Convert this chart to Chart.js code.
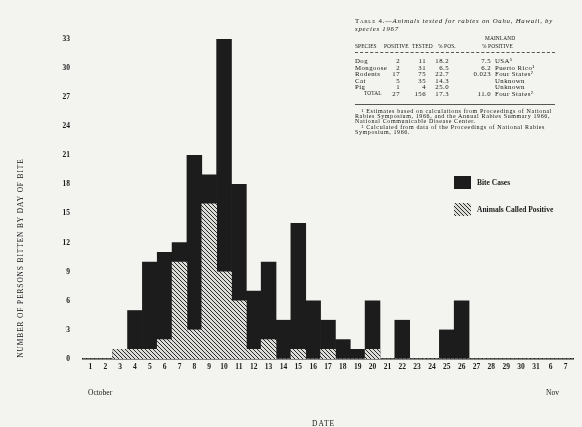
<!DOCTYPE html>
<html>
<head>
<meta charset="utf-8">
<script src="https://cdn.jsdelivr.net/npm/chart.js@4.4.0/dist/chart.umd.min.js"></script>
<style>
    html, body { margin: 0; padding: 0; background: #f3f3f0; }
    #wrap { position: relative; width: 582px; height: 427px; overflow: hidden; font-family: "Liberation Serif", "DejaVu Serif", serif; color: #151515; }
    #chart { position: absolute; left: 0; top: 0; }
    .t { position: absolute; white-space: nowrap; line-height: 1; }
    .tbl { font-size: 6.8px; letter-spacing: 0.45px; }
    .r { text-align: right; }
</style>
</head>
<body>
<div id="wrap">
    <canvas id="chart" width="582" height="427"></canvas>
    <div id="table"></div>
    <div class="t" style="left:88px; top:389px; font-size:7.5px;">October</div>
    <div class="t" style="left:546px; top:389px; font-size:7.5px;">Nov</div>
    <div class="t" style="left:312px; top:420px; font-size:7.5px; letter-spacing:1px;">DATE</div>
</div>
<script>
// Chart data.
const days = ['1', '2', '3', '4', '5', '6', '7', '8', '9', '10', '11', '12', '13', '14', '15', '16',
    '17', '18', '19', '20', '21', '22', '23', '24', '25', '26', '27', '28', '29', '30', '31', '6', '7'];
const bite_cases = [0, 0, 1, 5, 10, 11, 12, 21, 19, 33, 18, 7, 10, 4, 14, 6,
    4, 2, 1, 6, 0, 4, 0, 0, 3, 6, 0, 0, 0, 0, 0, 0, 0];
const called_positive = [0, 0, 1, 1, 1, 2, 10, 3, 16, 9, 6, 1, 2, 0, 1, 0,
    1, 0, 0, 1, 0, 0, 0, 0, 0, 0, 0, 0, 0, 0, 0, 0, 0];
const y_max = 33;
const y_step = 3;
const y_title = 'NUMBER OF PERSONS BITTEN BY DAY OF BITE';

// Table 4 data.
const species = ['Dog', 'Mongoose', 'Rodents', 'Cat', 'Pig', 'TOTAL'];
const positive = ['2', '2', '17', '5', '1', '27'];
const tested = ['11', '31', '75', '35', '4', '156'];
const pct_pos = ['18.2', '6.5', '22.7', '14.3', '25.0', '17.3'];
const mainland_pct = ['7.5', '6.2', '0.023', '', '', '11.0'];
const mainland_where = ['USA¹', 'Puerto Rico¹', 'Four States²', 'Unknown', 'Unknown', 'Four States²'];
const footnotes = [
    '\u2003¹ Estimates based on calculations from Proceedings of National',
    'Rabies Symposium, 1966, and the Annual Rabies Summary 1966,',
    'National Communicable Disease Center.',
    '\u2003² Calculated from data of the Proceedings of National Rabies',
    'Symposium, 1966.',
];

// Build the table text.
function build_table() {
    const box = document.getElementById('table');
    let html = '';
    const add = (text, left, top, cls, extra) => {
        html += '<div class="t tbl ' + (cls || '') + '" style="left:' + left + 'px; top:' + top + 'px;' + (extra || '') + '">' + text + '</div>';
    };
    const small = 'font-size:5.4px; letter-spacing:0.1px;';

    add('<span style="font-variant:small-caps">Table 4.</span>—<i>Animals tested for rabies on Oahu, Hawaii, by</i>', 355, 18, '', 'letter-spacing:0.75px;');
    add('<i>species 1967</i>', 355, 25.5, '', 'letter-spacing:0.75px;');
    add('MAINLAND', 485, 36, '', small);
    add('SPECIES', 355, 44, '', small);
    add('POSITIVE', 384, 44, '', small);
    add('TESTED', 412, 44, '', small);
    add('% POS.', 438, 44, '', small);
    add('% POSITIVE', 482, 44, '', small);
    html += '<div class="t" style="left:355px; top:52px; width:200px; border-top:1px dashed #555;"></div>';

    species.forEach((s, i) => {
        const top = 58 + i * 6.6;
        const total = s == 'TOTAL';
        add(s, total ? 364 : 355, top, '', total ? small : '');
        add(positive[i], 380, top, 'r', 'width:20px;');
        add(tested[i], 405, top, 'r', 'width:21px;');
        add(pct_pos[i], 427, top, 'r', 'width:22px;');
        add(mainland_pct[i], 468, top, 'r', 'width:23px;');
        add(mainland_where[i], 495, top);
    });
    html += '<div class="t" style="left:355px; top:104px; width:200px; border-top:1px solid #555;"></div>';

    footnotes.forEach((f, i) => {
        add(f, 355, 108 + i * 5.2, '', 'font-size:6px; letter-spacing:0.62px;');
    });

    box.innerHTML = html;
}

// Hatch pattern for the positive animals.
function make_hatch() {
    const c = document.createElement('canvas');
    c.width = 4;
    c.height = 4;
    const g = c.getContext('2d');
    g.fillStyle = '#dcdcd8';
    g.fillRect(0, 0, 4, 4);
    g.strokeStyle = '#2a2a2a';
    g.lineWidth = 1;
    g.beginPath();
    g.moveTo(0, 0); g.lineTo(4, 4);
    g.moveTo(-1, 3); g.lineTo(1, 5);
    g.moveTo(3, -1); g.lineTo(5, 1);
    g.stroke();
    return g.createPattern(c, 'repeat');
}

const hatch = make_hatch();

// Legend and vertical axis title drawn beside the plot.
const legend_plugin = {
    id: 'side_legend',
    afterDraw(chart) {
        const ctx = chart.ctx;
        ctx.save();
        ctx.fillStyle = '#1c1c1c';
        ctx.fillRect(454, 176, 17, 13);
        ctx.fillStyle = hatch;
        ctx.fillRect(454, 203, 17, 13);
        ctx.fillStyle = '#1a1a1a';
        ctx.font = 'bold 7.5px "Liberation Serif", serif';
        ctx.textBaseline = 'middle';
        ctx.fillText(chart.data.datasets[0].label, 477, 183);
        ctx.fillText(chart.data.datasets[1].label, 477, 210);
        ctx.restore();

        // Y title.
        ctx.save();
        ctx.translate(21, 258);
        ctx.rotate(-Math.PI / 2);
        ctx.fillStyle = '#111';
        ctx.font = '7.4px "Liberation Serif", serif';
        ctx.letterSpacing = '0.9px';
        ctx.textAlign = 'center';
        ctx.textBaseline = 'middle';
        ctx.fillText(y_title, 0, 0);
        ctx.restore();
    },
};

const tick_font = { family: '"Liberation Serif", serif', size: 7.5, weight: 'bold' };

const config = {
    type: 'bar',
    data: {
        labels: days,
        datasets: [{
            label: 'Bite Cases',
            data: bite_cases,
            backgroundColor: '#1c1c1c',
            order: 2,
        }, {
            label: 'Animals Called Positive',
            data: called_positive,
            backgroundColor: hatch,
            order: 1,
        }],
    },
    options: {
        responsive: false,
        animation: false,
        layout: { padding: { top: 39, right: 9, left: 0, bottom: 0 } },
        datasets: {
            bar: {
                grouped: false,
                barPercentage: 1,
                categoryPercentage: 1,
                borderWidth: 0,
            },
        },
        plugins: {
            legend: { display: false },
            tooltip: { enabled: false },
        },
        scales: {
            x: {
                grid: { display: false, drawTicks: false },
                border: { display: true, color: '#1a1a1a', width: 1.5 },
                ticks: { color: '#1a1a1a', font: tick_font, padding: 4, maxRotation: 0, autoSkip: false },
                afterFit(scale) { scale.height = 68; },
            },
            y: {
                min: 0,
                max: y_max,
                grid: { display: false, drawTicks: false },
                border: { display: false },
                ticks: { stepSize: y_step, color: '#1a1a1a', font: tick_font, padding: 13 },
                afterFit(scale) { scale.width = 83; },
            },
        },
    },
    plugins: [legend_plugin],
};

build_table();
window.myChart = new Chart(document.getElementById('chart'), config);
</script>
</body>
</html>
